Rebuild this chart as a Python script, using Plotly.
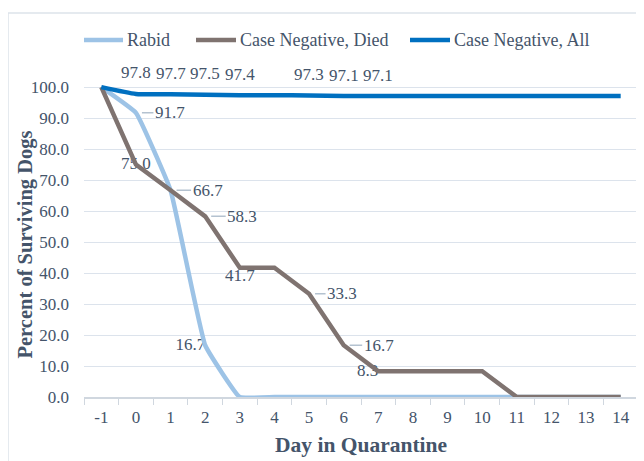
import plotly.graph_objects as go

# data
days = [str(d) for d in range(-1, 15)]
rabid = [100.0, 91.7, 66.7, 16.7, 0, 0, 0, 0, 0, 0, 0, 0, 0, 0, 0, 0]
neg_died = [100.0, 75.0, 66.7, 58.3, 41.7, 41.7, 33.3, 16.7, 8.3, 8.3, 8.3, 8.3, 0, 0, 0, 0]
neg_all = [100.0, 97.8, 97.7, 97.5, 97.4, 97.4, 97.3, 97.1, 97.1, 97.1, 97.1, 97.1, 97.1, 97.1, 97.1, 97.1]
series_names = ["Rabid", "Case Negative, Died", "Case Negative, All"]

FONT = "Liberation Serif"
TXT = "#44546A"
GRID = "#DCE3EC"
COLORS = ["#9DC3E6", "#7F7370", "#0070C0"]

# plot area in page pixels: x 84..638, y 84..397
def px(x):
    return (x - 84) / 554

def py(y):
    return (397 - y) / 313

fig = go.Figure()

# labels that sit under the lines (drawn first so the lines cover them)
under = [
    ("0", 75.0, "75.0", "middle center"),
    ("7", 8.3, "8.3", "middle left"),
    ("2", 16.7, "16.7", "middle left"),
]
fig.add_trace(go.Scatter(
    x=[u[0] for u in under], y=[u[1] for u in under],
    text=[u[2] for u in under], textposition=[u[3] for u in under],
    mode="text", showlegend=False, hoverinfo="skip",
    textfont=dict(family=FONT, size=17, color=TXT),
))

fig.add_trace(go.Scatter(x=days, y=rabid, name=series_names[0], mode="lines", showlegend=False,
                         line=dict(color=COLORS[0], width=4.5, shape="spline", smoothing=0.3)))
fig.add_trace(go.Scatter(x=days, y=neg_died, name=series_names[1], mode="lines", showlegend=False,
                         line=dict(color=COLORS[1], width=4.5)))
fig.add_trace(go.Scatter(x=days, y=neg_all, name=series_names[2], mode="lines", showlegend=False,
                         line=dict(color=COLORS[2], width=4.5, shape="spline", smoothing=0.5)))

lab_font = dict(family=FONT, size=17, color=TXT)
annots = []
# labels with leader lines (annotation x on a category axis = category index)
for d, v, ax in [("0", 91.7, 34), ("1", 66.7, 37), ("2", 58.3, 37),
                 ("5", 33.3, 33), ("6", 16.7, 35)]:
    annots.append(dict(x=days.index(d), y=v, text=f"{v:.1f}", showarrow=True, ax=ax, ay=0,
                       arrowhead=0, arrowwidth=1.5, arrowcolor="#B4C2D0", standoff=6,
                       font=lab_font))
annots.append(dict(x=days.index("3"), y=41.7, text="41.7", showarrow=False, yshift=-8,
                   font=lab_font))

# labels above "Case Negative, All"
for d in ["0", "1", "2", "3", "5", "6", "7"]:
    i = days.index(d)
    annots.append(dict(x=i, y=neg_all[i], text=f"{neg_all[i]:.1f}", showarrow=False,
                       yshift=21, font=lab_font))

# axis titles
annots.append(dict(xref="paper", yref="paper", x=px(24.5), y=py(245), xanchor="center", yanchor="middle",
                   text="<b>Percent of Surviving Dogs</b>", textangle=-90, showarrow=False,
                   font=dict(family=FONT, size=20.5, color=TXT)))
annots.append(dict(xref="paper", yref="paper", x=px(361), y=py(445), xanchor="center", yanchor="middle",
                   text="<b>Day in Quarantine</b>", showarrow=False,
                   font=dict(family=FONT, size=21.5, color=TXT)))

# legend drawn by hand (longer line samples than plotly's legend)
shapes = [dict(type="rect", xref="paper", yref="paper", x0=px(8), x1=px(660), y0=py(480), y1=py(13),
               line=dict(color="#DDE3EA", width=1.5))]
for name, col, (x0, x1) in zip(series_names, COLORS, [(84, 123), (196, 236), (410, 450)]):
    shapes.append(dict(type="line", xref="paper", yref="paper", x0=px(x0), x1=px(x1),
                       y0=py(40), y1=py(40), line=dict(color=col, width=4.5)))
    annots.append(dict(xref="paper", yref="paper", x=px(x1 + 2), y=py(40), xanchor="left",
                       yanchor="middle", text=name, showarrow=False,
                       font=dict(family=FONT, size=18, color=TXT)))

# page body has an 8px margin, so the figure is drawn offset by 8px
fig.update_layout(
    width=644, height=461,
    margin=dict(l=76, r=14, t=76, b=72, autoexpand=False),
    plot_bgcolor="white", paper_bgcolor="white",
    font=dict(family=FONT, size=17, color=TXT),
    annotations=annots,
    shapes=shapes,
    showlegend=False,
)
fig.update_xaxes(type="category", categoryorder="array", categoryarray=days, range=[-0.5, 15.5],
                 tickson="boundaries", ticks="outside",
                 ticklen=6, tickcolor="#D0D7DF", showgrid=False, showline=True,
                 linecolor="#D0D7DF", linewidth=1.5, ticklabelstandoff=4, automargin=False,
                 tickfont=dict(family=FONT, size=17, color=TXT))
fig.update_yaxes(range=[0, 101], tickvals=list(range(0, 101, 10)), tickformat=".1f",
                 showgrid=True, gridcolor=GRID, gridwidth=1.2, zeroline=False, showline=False,
                 ticklabelstandoff=14, automargin=False,
                 tickfont=dict(family=FONT, size=17, color=TXT))

fig.write_html("out.html")
